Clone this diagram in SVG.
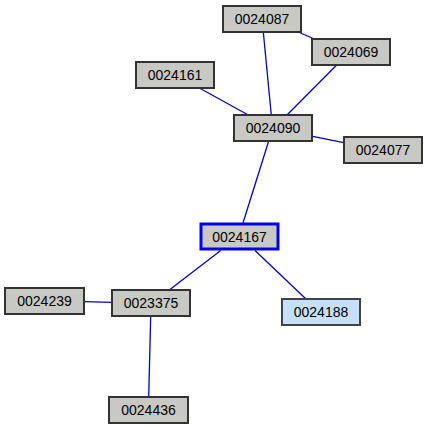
<svg xmlns="http://www.w3.org/2000/svg" width="428" height="430" viewBox="0 0 428 430">
<style>
.n rect{fill:#c8c9c4;stroke:#333;stroke-width:2}
.n text{font-family:"Liberation Sans",Arial,sans-serif;font-size:14px;fill:#000;text-anchor:middle}
#n0024167 rect{stroke:#0000ee;stroke-width:3}
#n0024188 rect{fill:#c6e0fa;stroke:#444}
.e line{stroke:#0000cc;stroke-width:1.3}
</style>
<rect width="428" height="430" fill="#fff"/>
<g class="e">
<line x1="263.3" y1="32" x2="271.3" y2="115"/>
<line x1="298.3" y1="32" x2="314.3" y2="39"/>
<line x1="336.7" y1="65" x2="287" y2="115"/>
<line x1="199.3" y1="88" x2="248.3" y2="115"/>
<line x1="312.7" y1="136.3" x2="343.7" y2="142.7"/>
<line x1="268.7" y1="141" x2="243" y2="223"/>
<line x1="220.7" y1="250.5" x2="169.3" y2="290"/>
<line x1="255" y1="250.5" x2="306" y2="299"/>
<line x1="84" y1="301.7" x2="112" y2="302.3"/>
<line x1="150.7" y1="316" x2="148.7" y2="397"/>
</g>
<g id="n0024087" class="n"><rect x="223" y="6" width="78" height="26"/><text x="262" y="24">0024087</text></g>
<g id="n0024069" class="n"><rect x="312" y="39" width="78" height="26"/><text x="351" y="57">0024069</text></g>
<g id="n0024161" class="n"><rect x="136" y="62" width="78" height="26"/><text x="175" y="80">0024161</text></g>
<g id="n0024090" class="n"><rect x="234" y="115" width="78" height="26"/><text x="273" y="133">0024090</text></g>
<g id="n0024077" class="n"><rect x="344" y="137" width="78" height="26"/><text x="383" y="155">0024077</text></g>
<g id="n0024167" class="n"><rect x="201" y="224" width="77" height="25"/><text x="239.5" y="241.5">0024167</text></g>
<g id="n0024239" class="n"><rect x="5" y="288" width="79" height="26"/><text x="44.5" y="306">0024239</text></g>
<g id="n0023375" class="n"><rect x="112" y="290" width="78" height="26"/><text x="151" y="308">0023375</text></g>
<g id="n0024188" class="n"><rect x="282" y="299" width="78" height="26"/><text x="321" y="317">0024188</text></g>
<g id="n0024436" class="n"><rect x="109" y="397" width="79" height="26"/><text x="148.5" y="415">0024436</text></g>
</svg>
